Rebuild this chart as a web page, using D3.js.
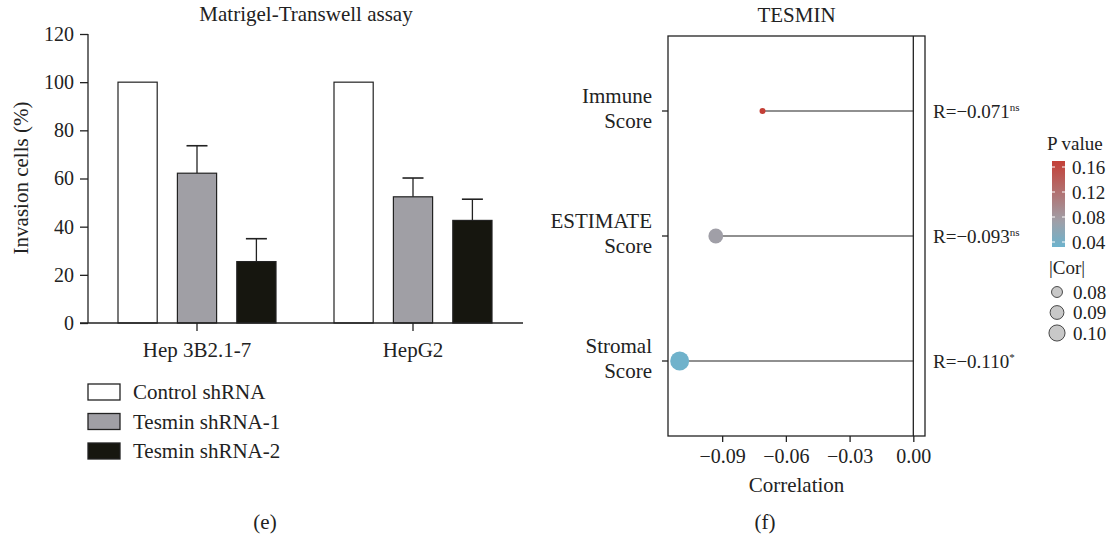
<!DOCTYPE html>
<html><head><meta charset="utf-8">
<script src="https://cdn.jsdelivr.net/npm/d3@7"></script>
<style>
body{margin:0;background:#fff;}
svg{display:block;font-family:"Liberation Serif","DejaVu Serif",serif;}
</style></head>
<body><svg id="c" width="1115" height="539"></svg>
<script>
// ---- Panel (e) data ----
const cellLines = ["Hep 3B2.1-7", "HepG2"];
const groups = ["Control shRNA", "Tesmin shRNA-1", "Tesmin shRNA-2"];
const groupColors = ["#ffffff", "#a09fa5", "#16160f"];
const meanValues = [[100, 62.2, 25.5], [100, 52.4, 42.6]];
const errorValues = [[0, 11.4, 9.5], [0, 7.8, 8.8]];
const yTicksE = [0, 20, 40, 60, 80, 100, 120];

// ---- Panel (f) data ----
const scores = ["Immune\nScore", "ESTIMATE\nScore", "Stromal\nScore"];
const correlations = [-0.071, -0.093, -0.110];
const pValues = [0.170, 0.074, 0.034];
const rLabels = ["R=\u22120.071", "R=\u22120.093", "R=\u22120.110"];
const sigLabels = ["ns", "ns", "*"];
const xTicksF = [-0.09, -0.06, -0.03, 0.00];
const pTicks = [0.04, 0.08, 0.12, 0.16];
const corLegend = [0.08, 0.09, 0.10];

const svg = d3.select("#c");
const ink = "#222";
const FS = 21, TS = 20;

// ================= Panel (e) =================
const y = d3.scaleLinear().domain([0, 120]).range([323, 34]);
const x0 = d3.scaleBand().domain(cellLines).range([89, 521]).paddingInner(0).paddingOuter(0);
const x1 = d3.scaleBand().domain(groups).range([-79, 79]).paddingInner(0.34).paddingOuter(0);

const gE = svg.append("g");
cellLines.forEach((cl, i) => {
  const cx = x0(cl) + x0.bandwidth() / 2;
  groups.forEach((gname, j) => {
    const bx = cx + x1(gname);
    const v = meanValues[i][j], e = errorValues[i][j];
    const midx = bx + x1.bandwidth() / 2;
    if (e > 0) {
      gE.append("line").attr("x1", midx).attr("x2", midx).attr("y1", y(v)).attr("y2", y(v + e))
        .attr("stroke", ink).attr("stroke-width", 1.3);
      gE.append("line").attr("x1", midx - 10.5).attr("x2", midx + 10.5).attr("y1", y(v + e)).attr("y2", y(v + e))
        .attr("stroke", ink).attr("stroke-width", 1.6);
    }
    gE.append("rect").attr("x", bx).attr("y", y(v)).attr("width", x1.bandwidth()).attr("height", y(0) - y(v))
      .attr("fill", groupColors[j]).attr("stroke", ink).attr("stroke-width", 1.2);
  });
});
const yAx = gE.append("g").attr("transform", "translate(88,0)")
  .call(d3.axisLeft(y).tickValues(yTicksE).tickSize(8).tickPadding(6));
yAx.select(".domain").attr("d", `M0,${y(120)}V${y(0)}`);
const xAx = gE.append("g").attr("transform", `translate(0,${y(0)})`);
xAx.append("line").attr("x1", 80).attr("x2", 523).attr("stroke", ink).attr("stroke-width", 1.3);
cellLines.forEach(cl => {
  const cx = x0(cl) + x0.bandwidth() / 2;
  xAx.append("line").attr("x1", cx).attr("x2", cx).attr("y1", 0).attr("y2", 8).attr("stroke", ink).attr("stroke-width", 1.3);
  xAx.append("text").attr("x", cx).attr("y", 34).attr("text-anchor", "middle").attr("font-size", FS).attr("fill", ink).text(cl);
});
yAx.selectAll("line").attr("stroke", ink).attr("stroke-width", 1.3);
yAx.select(".domain").attr("stroke", ink).attr("stroke-width", 1.3);
yAx.selectAll("text").attr("font-size", TS).attr("fill", ink).attr("font-family", "Liberation Serif, serif");
gE.append("text").attr("x", 306).attr("y", 21).attr("text-anchor", "middle").attr("font-size", FS).attr("fill", ink).text("Matrigel-Transwell assay");
gE.append("text").attr("transform", "translate(28,178) rotate(-90)").attr("text-anchor", "middle").attr("font-size", FS).attr("fill", ink).text("Invasion cells (%)");
groups.forEach((gname, j) => {
  const ly = 384 + j * 29.5;
  gE.append("rect").attr("x", 88).attr("y", ly).attr("width", 32).attr("height", 16)
    .attr("fill", groupColors[j]).attr("stroke", ink).attr("stroke-width", 1.3);
  gE.append("text").attr("x", 133).attr("y", ly + 15).attr("font-size", FS).attr("fill", ink).text(gname);
});
gE.append("text").attr("x", 265).attr("y", 529).attr("text-anchor", "middle").attr("font-size", FS).attr("fill", ink).text("(e)");

// ================= Panel (f) =================
const L = 668, R = 925, T = 36, B = 436;
const xf = d3.scaleLinear().domain([-0.1155, 0.0055]).range([L, R]);
const yf = d3.scalePoint().domain(scores).range([T, B]).padding(0.6);
const color = d3.scaleLinear().domain([0.034, 0.074, 0.170]).range(["#6fb2cb", "#a09fa7", "#c43f36"]).interpolate(d3.interpolateRgb);
const r2 = d3.scaleLinear().domain([0.071, 0.110]).range([9, 90]);
const rad = v => Math.sqrt(r2(Math.abs(v)));

const gF = svg.append("g");
gF.append("text").attr("x", (L + R) / 2).attr("y", 22).attr("text-anchor", "middle").attr("font-size", FS).attr("fill", ink).text("TESMIN");
gF.append("line").attr("x1", xf(0)).attr("x2", xf(0)).attr("y1", T).attr("y2", B).attr("stroke", ink).attr("stroke-width", 1.3);
scores.forEach((s, i) => {
  gF.append("line").attr("x1", xf(correlations[i])).attr("x2", xf(0)).attr("y1", yf(s)).attr("y2", yf(s))
    .attr("stroke", ink).attr("stroke-width", 1.2);
});
scores.forEach((s, i) => {
  gF.append("circle").attr("cx", xf(correlations[i])).attr("cy", yf(s)).attr("r", rad(correlations[i]))
    .attr("fill", color(pValues[i]));
});
gF.append("rect").attr("x", L).attr("y", T).attr("width", R - L).attr("height", B - T)
  .attr("fill", "none").attr("stroke", ink).attr("stroke-width", 1.3);
const xAxF = gF.append("g").attr("transform", `translate(0,${B})`)
  .call(d3.axisBottom(xf).tickValues(xTicksF).tickSize(6).tickPadding(7).tickFormat(d => d3.format(".2f")(d).replace("-", "\u2212")));
xAxF.select(".domain").remove();
xAxF.selectAll("line").attr("stroke", ink).attr("stroke-width", 1.3);
xAxF.selectAll("text").attr("font-size", TS).attr("fill", ink).attr("font-family", "Liberation Serif, serif");
gF.append("text").attr("x", (L + R) / 2).attr("y", 492).attr("text-anchor", "middle").attr("font-size", FS).attr("fill", ink).text("Correlation");
scores.forEach(s => {
  const yy = yf(s);
  gF.append("line").attr("x1", L - 6).attr("x2", L).attr("y1", yy).attr("y2", yy).attr("stroke", ink).attr("stroke-width", 1.3);
  s.split("\n").forEach((t, k) => {
    gF.append("text").attr("x", 652).attr("y", yy - 8 + k * 25).attr("text-anchor", "end").attr("font-size", FS).attr("fill", ink).text(t);
  });
});
scores.forEach((s, i) => {
  const t = gF.append("text").attr("x", 933).attr("y", yf(s) + 7).attr("font-size", 19).attr("fill", ink);
  t.append("tspan").text(rLabels[i]);
  t.append("tspan").attr("font-size", 11).attr("dy", -7).text(sigLabels[i]);
});
// P value colour bar
const cb = d3.scaleLinear().domain([0.04, 0.16]).range([242, 167]);
const pMin = 0.032, pMax = 0.1696;
const defs = svg.append("defs");
const grad = defs.append("linearGradient").attr("id", "pg").attr("x1", 0).attr("y1", 1).attr("x2", 0).attr("y2", 0);
d3.range(0, 1.0001, 0.05).forEach(t => {
  grad.append("stop").attr("offset", t).attr("stop-color", color(pMin + t * (pMax - pMin)));
});
gF.append("text").attr("x", 1047).attr("y", 150).attr("font-size", 19).attr("fill", ink).text("P value");
gF.append("rect").attr("x", 1052).attr("y", cb(pMax)).attr("width", 13).attr("height", cb(pMin) - cb(pMax)).attr("fill", "url(#pg)");
pTicks.forEach(p => {
  gF.append("line").attr("x1", 1052).attr("x2", 1055).attr("y1", cb(p)).attr("y2", cb(p)).attr("stroke", "#fff").attr("stroke-width", 1);
  gF.append("line").attr("x1", 1062).attr("x2", 1065).attr("y1", cb(p)).attr("y2", cb(p)).attr("stroke", "#fff").attr("stroke-width", 1);
  gF.append("text").attr("x", 1072).attr("y", cb(p) + 6.5).attr("font-size", 19).attr("fill", ink).text(d3.format(".2f")(p));
});
gF.append("text").attr("x", 1049).attr("y", 274).attr("font-size", 19).attr("fill", ink).text("|Cor|");
const cy = d3.scaleLinear().domain([0.08, 0.10]).range([292, 333]);
corLegend.forEach(c => {
  gF.append("circle").attr("cx", 1057).attr("cy", cy(c)).attr("r", rad(c) * 0.85 + 1)
    .attr("fill", "#c8c8c8").attr("stroke", ink).attr("stroke-width", 0.8);
  gF.append("text").attr("x", 1073).attr("y", cy(c) + 6.5).attr("font-size", 19).attr("fill", ink).text(d3.format(".2f")(c));
});
gF.append("text").attr("x", 765).attr("y", 529).attr("text-anchor", "middle").attr("font-size", FS).attr("fill", ink).text("(f)");
</script></body></html>
